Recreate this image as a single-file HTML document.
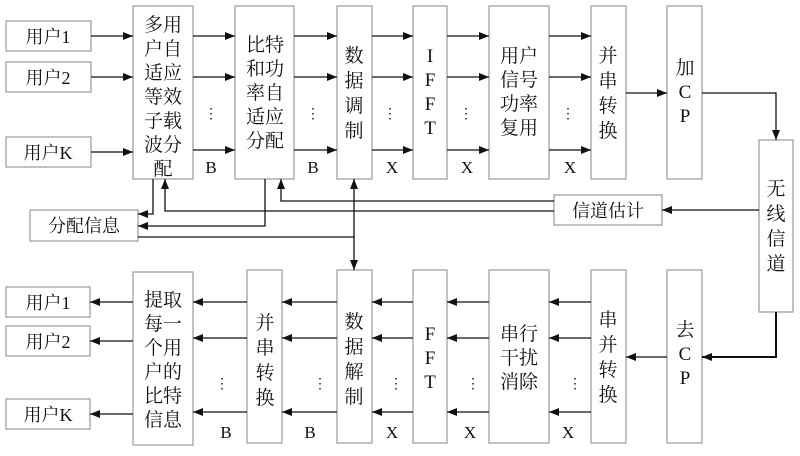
<!DOCTYPE html>
<html><head><meta charset="utf-8"><style>
html,body{margin:0;padding:0;background:#fff;}
svg text{font-family:"Liberation Serif","Noto Serif CJK SC",serif;fill:#111;}
</style></head><body>
<svg width="800" height="451" viewBox="0 0 800 451" xmlns="http://www.w3.org/2000/svg">
<defs>
<marker id="a" markerWidth="10" markerHeight="8" refX="10" refY="4" orient="auto" markerUnits="userSpaceOnUse">
<path d="M0,0 L10,4 L0,8 Z" fill="#111"/></marker>
</defs>
<g fill="#fff" stroke="#999" stroke-width="1.2">
<rect x="6" y="21" width="85" height="30"/>
<rect x="6" y="62" width="85" height="30"/>
<rect x="6" y="137" width="85" height="30"/>
<rect x="133" y="6" width="60" height="173"/>
<rect x="235" y="6" width="59" height="173"/>
<rect x="337" y="6" width="35" height="173"/>
<rect x="413" y="6" width="34" height="173"/>
<rect x="489" y="6" width="60" height="173"/>
<rect x="591" y="6" width="35" height="173"/>
<rect x="667" y="6" width="35" height="173"/>
<rect x="759" y="140" width="34" height="172"/>
<rect x="554" y="195" width="108" height="30"/>
<rect x="30" y="210" width="108" height="31"/>
<rect x="6" y="287" width="84" height="30"/>
<rect x="6" y="326" width="84" height="30"/>
<rect x="6" y="399" width="84" height="30"/>
<rect x="133" y="272" width="60" height="173"/>
<rect x="247" y="270" width="35" height="173"/>
<rect x="337" y="270" width="35" height="173"/>
<rect x="413" y="270" width="34" height="173"/>
<rect x="489" y="270" width="60" height="173"/>
<rect x="591" y="270" width="35" height="173"/>
<rect x="667" y="270" width="35" height="173"/>
</g>
<g stroke="#111" stroke-width="1.3" fill="none" marker-end="url(#a)">
<line x1="91" y1="36" x2="133" y2="36"/><line x1="91" y1="77" x2="133" y2="77"/><line x1="91" y1="152" x2="133" y2="152"/>
<line x1="193" y1="36" x2="235" y2="36"/><line x1="193" y1="77" x2="235" y2="77"/><line x1="193" y1="150" x2="235" y2="150"/>
<line x1="294" y1="36" x2="337" y2="36"/><line x1="294" y1="77" x2="337" y2="77"/><line x1="294" y1="150" x2="337" y2="150"/>
<line x1="372" y1="36" x2="413" y2="36"/><line x1="372" y1="77" x2="413" y2="77"/><line x1="372" y1="150" x2="413" y2="150"/>
<line x1="447" y1="36" x2="489" y2="36"/><line x1="447" y1="77" x2="489" y2="77"/><line x1="447" y1="150" x2="489" y2="150"/>
<line x1="549" y1="36" x2="591" y2="36"/><line x1="549" y1="77" x2="591" y2="77"/><line x1="549" y1="150" x2="591" y2="150"/>
<line x1="626" y1="93" x2="667" y2="93"/>
<polyline points="702,93 776,93 776,140"/>
<line x1="759" y1="210" x2="662" y2="210"/>
<polyline points="554,201 281,201 281,179"/>
<polyline points="554,211 165,211 165,179"/>
<polyline points="153,179 153,214 138,214"/>
<polyline points="265,179 265,226 138,226"/>
<polyline points="138,237 354,237 354,270"/>
<line x1="354" y1="237" x2="354" y2="179"/>
<line x1="133" y1="302" x2="90" y2="302"/><line x1="133" y1="341" x2="90" y2="341"/><line x1="133" y1="414" x2="90" y2="414"/>
<line x1="247" y1="302" x2="193" y2="302"/><line x1="247" y1="338" x2="193" y2="338"/><line x1="247" y1="412" x2="193" y2="412"/>
<line x1="337" y1="302" x2="282" y2="302"/><line x1="337" y1="338" x2="282" y2="338"/><line x1="337" y1="412" x2="282" y2="412"/>
<line x1="413" y1="302" x2="372" y2="302"/><line x1="413" y1="338" x2="372" y2="338"/><line x1="413" y1="412" x2="372" y2="412"/>
<line x1="489" y1="302" x2="447" y2="302"/><line x1="489" y1="338" x2="447" y2="338"/><line x1="489" y1="412" x2="447" y2="412"/>
<line x1="591" y1="302" x2="549" y2="302"/><line x1="591" y1="338" x2="549" y2="338"/><line x1="591" y1="412" x2="549" y2="412"/>
<line x1="667" y1="357" x2="626" y2="357"/>
<polyline points="776,312 776,357 702,357" stroke-width="2"/>
</g>
<g font-size="18" text-anchor="middle">
<text x="48" y="43">用户1</text><text x="48" y="84">用户2</text><text x="48" y="159">用户K</text>
<text x="48" y="309">用户1</text><text x="48" y="348">用户2</text><text x="48" y="421">用户K</text>
<text x="84" y="232">分配信息</text><text x="608" y="217">信道估计</text>
<g font-size="19">
<text x="163" y="31">多用</text><text x="163" y="55">户自</text><text x="163" y="79">适应</text><text x="163" y="103">等效</text><text x="163" y="127">子载</text><text x="163" y="151">波分</text><text x="163" y="175">配</text>
<text x="265" y="51">比特</text><text x="265" y="75">和功</text><text x="265" y="99">率自</text><text x="265" y="123">适应</text><text x="265" y="147">分配</text>
<text x="354" y="62">数</text><text x="354" y="87">据</text><text x="354" y="112">调</text><text x="354" y="137">制</text>
<text x="430" y="62">I</text><text x="430" y="86">F</text><text x="430" y="110">F</text><text x="430" y="134">T</text>
<text x="519" y="62">用户</text><text x="519" y="86">信号</text><text x="519" y="110">功率</text><text x="519" y="134">复用</text>
<text x="608" y="62">并</text><text x="608" y="87">串</text><text x="608" y="112">转</text><text x="608" y="137">换</text>
<text x="685" y="74">加</text><text x="685" y="98">C</text><text x="685" y="122">P</text>
<text x="776" y="195">无</text><text x="776" y="220">线</text><text x="776" y="245">信</text><text x="776" y="270">道</text>
<text x="163" y="306">提取</text><text x="163" y="330">每一</text><text x="163" y="354">个用</text><text x="163" y="378">户的</text><text x="163" y="402">比特</text><text x="163" y="426">信息</text>
<text x="265" y="329">并</text><text x="265" y="354">串</text><text x="265" y="379">转</text><text x="265" y="404">换</text>
<text x="354" y="328">数</text><text x="354" y="353">据</text><text x="354" y="378">解</text><text x="354" y="403">制</text>
<text x="430" y="340">F</text><text x="430" y="364">F</text><text x="430" y="388">T</text>
<text x="519" y="340">串行</text><text x="519" y="364">干扰</text><text x="519" y="388">消除</text>
<text x="608" y="326">串</text><text x="608" y="351">并</text><text x="608" y="376">转</text><text x="608" y="401">换</text>
<text x="685" y="336">去</text><text x="685" y="360">C</text><text x="685" y="384">P</text>
</g>
<g font-size="17">
<text x="211" y="173">B</text><text x="313" y="173">B</text><text x="392" y="173">X</text><text x="467" y="173">X</text><text x="570" y="173">X</text>
<text x="226" y="438">B</text><text x="310" y="438">B</text><text x="392" y="438">X</text><text x="470" y="438">X</text><text x="568" y="438">X</text>
</g>
<g font-size="14">
<text x="211" y="118">⋮</text><text x="313" y="118">⋮</text><text x="390" y="118">⋮</text><text x="466" y="118">⋮</text><text x="568" y="118">⋮</text>
<text x="222" y="388">⋮</text><text x="320" y="388">⋮</text><text x="396" y="388">⋮</text><text x="473" y="388">⋮</text><text x="575" y="388">⋮</text>
</g>
</g>
</svg>
</body></html>
